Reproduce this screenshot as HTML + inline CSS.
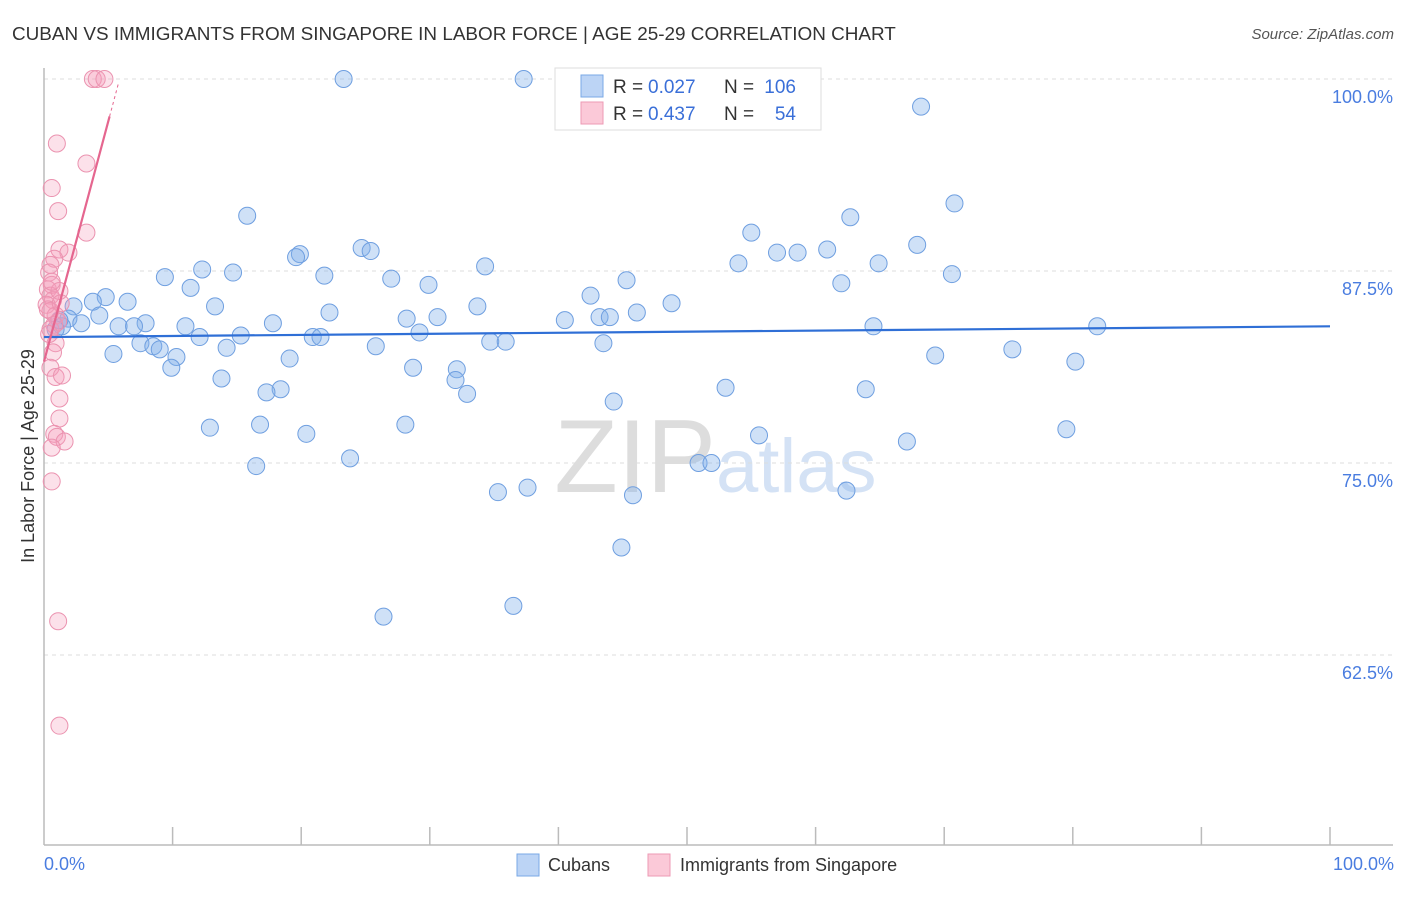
<!DOCTYPE html>
<html><head><meta charset="utf-8"><style>
body{margin:0;background:#fff;font-family:"Liberation Sans",sans-serif}
svg text{font-family:"Liberation Sans",sans-serif}
</style></head><body>
<svg id="c" width="1406" height="892">
<text x="12" y="40" font-size="18.9" fill="#333">CUBAN VS IMMIGRANTS FROM SINGAPORE IN LABOR FORCE | AGE 25-29 CORRELATION CHART</text>
<text x="1394" y="39" font-size="15" fill="#555" font-style="italic" text-anchor="end">Source: ZipAtlas.com</text>
<text x="716" y="492" font-size="104" fill="#ddd" text-anchor="end" font-family="Liberation Serif">ZIP</text>
<text x="716" y="492" font-size="76" fill="#d4e2f5">atlas</text>
<g id="grid"></g><g id="pts"></g><g id="lines"></g>
<text transform="translate(34,456) rotate(-90)" font-size="18" fill="#333" text-anchor="middle">In Labor Force | Age 25-29</text>
<rect x="555" y="68" width="266" height="62" fill="#fff" stroke="#ddd"/>
<rect x="581" y="75" width="22" height="22" fill="#bcd4f5" stroke="#7aa8e6"/>
<rect x="581" y="102" width="22" height="22" fill="#fbc9d8" stroke="#ec9ab4"/>
<g font-size="19">
<text x="613" y="93" fill="#333">R =</text><text x="648" y="93" fill="#3a6fd8">0.027</text>
<text x="724" y="93" fill="#333">N =</text><text x="796" y="93" fill="#3a6fd8" text-anchor="end">106</text>
<text x="613" y="120" fill="#333">R =</text><text x="648" y="120" fill="#3a6fd8">0.437</text>
<text x="724" y="120" fill="#333">N =</text><text x="796" y="120" fill="#3a6fd8" text-anchor="end">54</text>
</g>
<text x="44" y="870" font-size="18" fill="#4a7de0">0.0%</text>
<text x="1394" y="870" font-size="18" fill="#4a7de0" text-anchor="end">100.0%</text>
<rect x="517" y="854" width="22" height="22" fill="#bcd4f5" stroke="#7aa8e6"/>
<text x="548" y="871" font-size="18" fill="#333">Cubans</text>
<rect x="648" y="854" width="22" height="22" fill="#fbc9d8" stroke="#ec9ab4"/>
<text x="680" y="871" font-size="18" fill="#333">Immigrants from Singapore</text>
</svg>
<script>
const yTicks=[100,87.5,75,62.5];
const yTickLabels=["100.0%","87.5%","75.0%","62.5%"];
const cubanX=[23.3,37.3,68.2,70.8,62.7,15.8,55.0,67.9,24.7,25.4,19.9,19.6,57.0,58.6,60.9,54.0,64.9,34.3,12.3,14.7,9.4,21.8,27.0,45.3,70.6,62.0,29.9,11.4,4.8,42.5,6.5,3.8,13.3,2.3,48.8,33.7,46.1,22.2,4.3,1.9,28.2,30.6,40.5,43.2,44.0,2.9,7.9,17.8,1.4,5.8,7.0,11.0,64.5,81.9,29.2,15.3,12.1,20.9,21.5,34.7,35.9,7.5,8.5,9.0,25.8,43.5,14.2,5.4,10.3,19.1,69.3,75.3,80.2,9.9,28.7,32.1,32.0,13.8,18.4,17.3,53.0,63.9,32.9,44.3,16.8,28.1,12.9,20.4,67.1,55.6,79.5,23.8,16.5,50.9,51.9,37.6,35.3,45.8,62.4,44.9,36.5,26.4,1.2,0.9];
const cubanY=[100,100,98.2,91.9,91.0,91.1,90.0,89.2,89.0,88.8,88.6,88.4,88.7,88.7,88.9,88.0,88.0,87.8,87.6,87.4,87.1,87.2,87.0,86.9,87.3,86.7,86.6,86.4,85.8,85.9,85.5,85.5,85.2,85.2,85.4,85.2,84.8,84.8,84.6,84.4,84.4,84.5,84.3,84.5,84.5,84.1,84.1,84.1,83.9,83.9,83.9,83.9,83.9,83.9,83.5,83.3,83.2,83.2,83.2,82.9,82.9,82.8,82.6,82.4,82.6,82.8,82.5,82.1,81.9,81.8,82.0,82.4,81.6,81.2,81.2,81.1,80.4,80.5,79.8,79.6,79.9,79.8,79.5,79.0,77.5,77.5,77.3,76.9,76.4,76.8,77.2,75.3,74.8,75.0,75.0,73.4,73.1,72.9,73.2,69.5,65.7,65.0,84.3,83.7];
const singX=[3.8,4.1,4.7,1.0,3.3,0.6,1.1,3.3,1.2,1.9,0.8,0.5,0.4,0.6,0.3,0.5,0.7,0.2,0.5,0.9,1.1,0.5,0.9,0.7,0.5,0.9,1.4,1.2,1.2,0.8,1.0,1.6,0.6,0.6,1.1,1.2,1.2,0.3,0.8,0.4,1.3,0.6];
const singY=[100,100,100,95.8,94.5,92.9,91.4,90.0,88.9,88.7,88.3,87.9,87.4,86.6,86.3,85.9,85.6,85.3,84.9,84.6,84.2,83.7,82.8,82.2,81.2,80.6,80.7,79.2,77.9,76.9,76.7,76.4,76.0,73.8,64.7,57.9,86.2,85.0,84.0,83.4,85.4,86.8];
const cubanTrend=[83.2,83.9];
const singTrend={intercept:81.6,slope:3.13,solidEnd:5.1,dashEnd:5.8};
const X=v=>44+v*12.86, Y=v=>79+(100-v)*15.36;
const NS="http://www.w3.org/2000/svg";
function mk(t,a,p){const e=document.createElementNS(NS,t);for(const k in a)e.setAttribute(k,a[k]);p.appendChild(e);return e;}
const g=document.getElementById('grid');
yTicks.forEach((t,i)=>{
 const l=mk('line',{x1:44,x2:1393,y1:Y(t),y2:Y(t),stroke:'#ddd','stroke-dasharray':'4,4'},g);
 
 
 const tx=mk('text',{x:1393,y:Y(t)+24,'font-size':18,fill:'#4a7de0','text-anchor':'end'},g);
 tx.textContent=yTickLabels[i];
 
 
});
const ax=mk('line',{x1:44,x2:44,y1:68,y2:845,stroke:'#bbb','stroke-width':1.5},g);


const bx=mk('line',{x1:44,x2:1393,y1:845,y2:845,stroke:'#bbb','stroke-width':1.5},g);


for(let k=1;k<=10;k++){const t=mk('line',{x1:X(k*10),x2:X(k*10),y1:827,y2:845,stroke:'#bbb','stroke-width':1.5},g);
 
 }
const p=document.getElementById('pts');
cubanX.forEach((v,i)=>{const c=mk('circle',{cx:X(v),cy:Y(cubanY[i]),r:8.5,fill:'rgba(130,175,235,0.38)',stroke:'#6f9fe0','stroke-width':1},p);
 
 });
singX.forEach((v,i)=>{const c=mk('circle',{cx:X(v),cy:Y(singY[i]),r:8.5,fill:'rgba(245,155,185,0.3)',stroke:'#eb93b0','stroke-width':1},p);
 
 });
const L=document.getElementById('lines');
const bl=mk('line',{x1:X(0),y1:Y(cubanTrend[0]),x2:X(100),y2:Y(cubanTrend[1]),stroke:'#2f6fd6','stroke-width':2.2},L);


const f=x=>singTrend.intercept+singTrend.slope*x;
const pl=mk('line',{x1:X(0),y1:Y(f(0)),x2:X(singTrend.solidEnd),y2:Y(f(singTrend.solidEnd)),stroke:'#e5668f','stroke-width':2.2},L);


const pd=mk('line',{x1:X(singTrend.solidEnd),y1:Y(f(singTrend.solidEnd)),x2:X(singTrend.dashEnd),y2:Y(f(singTrend.dashEnd)),stroke:'#e5668f','stroke-width':1,'stroke-dasharray':'3,3'},L);


</script>
</body></html>
